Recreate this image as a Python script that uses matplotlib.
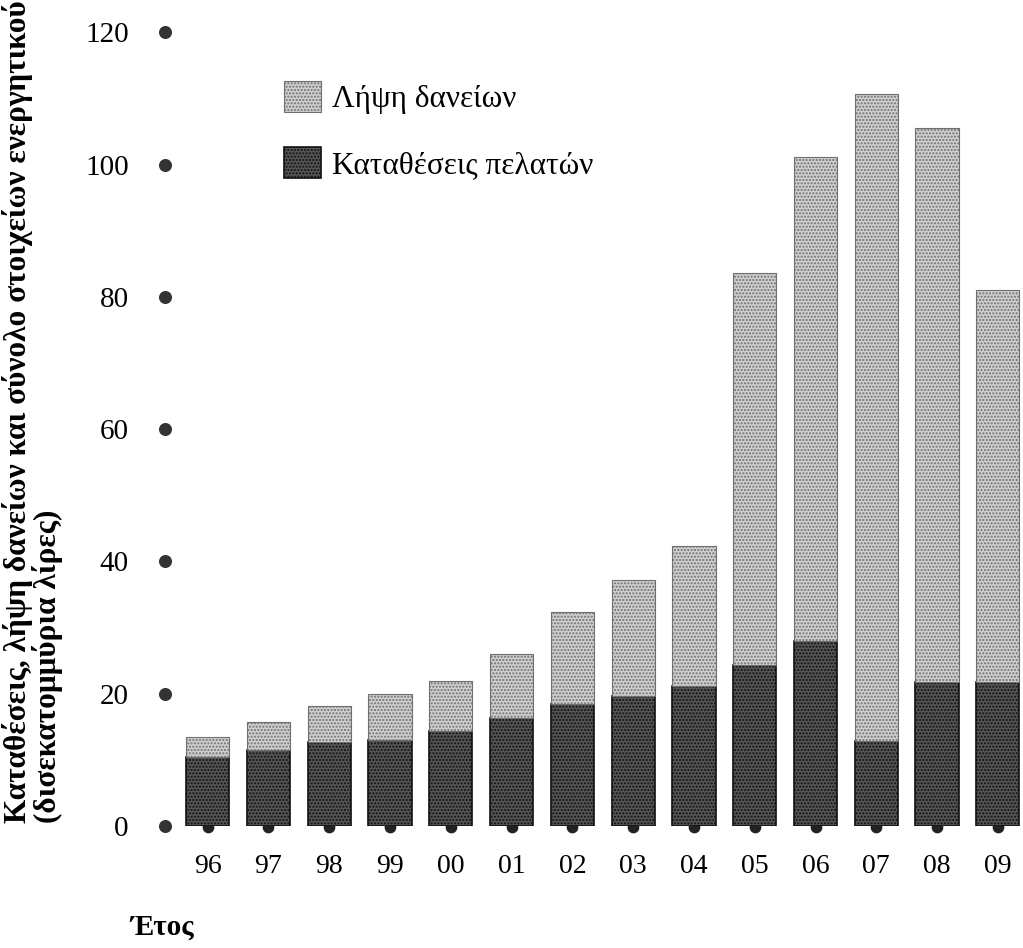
import matplotlib.pyplot as plt
import numpy as np

plt.rcParams['font.family'] = ['Liberation Serif', 'DejaVu Serif']
plt.rcParams['hatch.linewidth'] = 1.0

years = ['96', '97', '98', '99', '00', '01', '02', '03', '04', '05', '06', '07', '08', '09']
deposits = [10.4, 11.5, 12.7, 13.0, 14.3, 16.3, 18.5, 19.6, 21.1, 24.4, 27.9, 12.8, 21.7, 21.7]
borrowing = [3.0, 4.2, 5.4, 6.9, 7.7, 9.7, 13.8, 17.6, 21.3, 59.3, 73.3, 97.9, 83.9, 59.4]
yticks = [0, 20, 40, 60, 80, 100, 120]

fig = plt.figure(figsize=(10.23, 9.48), dpi=100)
ax = fig.add_axes([0.161, 0.1287, 0.837, 0.851])

x = np.arange(len(years))
width = 0.71

# dark lower part (deposits), light stippled top part (borrowing)
ax.bar(x, deposits, width, color='#555555', edgecolor='#111111', hatch='.....',
       linewidth=1.2, label='Καταθέσεις πελατών', zorder=2)
ax.bar(x, borrowing, width, bottom=deposits, color='#cfcfcf', edgecolor='#6f6f6f',
       hatch='.....', linewidth=0.8, label='Λήψη δανείων', zorder=2)
# small notch under each bar
ax.scatter(x, np.zeros(len(x)) - 0.2, s=55, color='#222222', zorder=1, clip_on=False)

ax.set_xlim(-0.707, 13.38)
ax.set_ylim(0, 122)
ax.set_xticks(x)
ax.set_xticklabels(years, fontsize=20)
ax.set_yticks(yticks)
ax.set_yticklabels([str(v) for v in yticks], fontsize=21)
ax.tick_params(axis='x', length=0, pad=20)
ax.tick_params(axis='y', length=0, pad=26)

# round dots in place of y tick marks
ax.scatter(np.full(len(yticks), -0.707), yticks, s=70, color='#333333',
           clip_on=False, zorder=3)

for s in ax.spines.values():
    s.set_visible(False)

handles, labels = ax.get_legend_handles_labels()
leg = ax.legend(handles[::-1], labels[::-1], loc='upper left',
                bbox_to_anchor=(0.118, 0.947), frameon=False, fontsize=22.5,
                handlelength=1.17, handleheight=1.17, handletextpad=0.35,
                labelspacing=1.05, borderaxespad=0.2)

fig.text(0.032, 0.132,
         'Καταθέσεις, λήψη δανείων και σύνολο στοιχείων ενεργητικού\n(δισεκατομμύρια λίρες)',
         rotation=90, ha='center', va='bottom', multialignment='left',
         fontsize=22.5, fontweight='bold', linespacing=0.95)
fig.text(0.127, 0.008, 'Έτος', fontsize=21, fontweight='bold', ha='left', va='bottom')

fig.savefig('out.png', dpi=100, facecolor='white')
